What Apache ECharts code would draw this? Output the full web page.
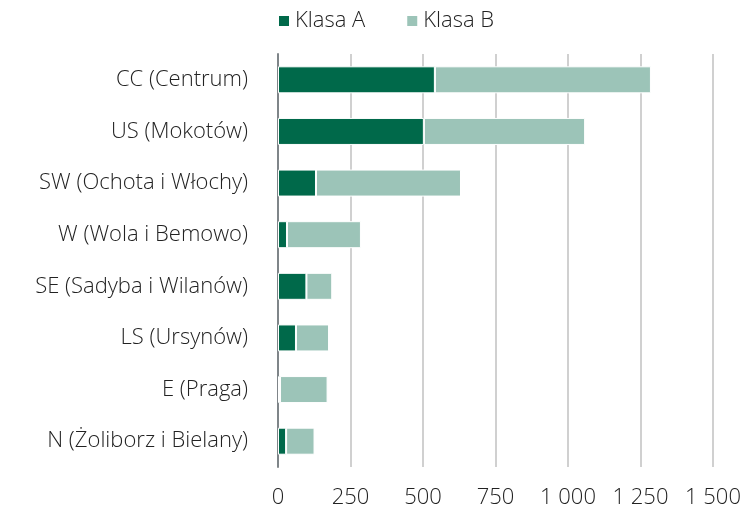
<!DOCTYPE html>
<html>
<head>
<meta charset="utf-8">
<script src="https://cdn.jsdelivr.net/npm/echarts@6/dist/echarts.min.js"></script>
<style>
  html, body { margin: 0; padding: 0; background: #fff; }
  #chart { width: 748px; height: 510px; }
</style>
</head>
<body>
<div id="chart"></div>
<script>
// dane
var districts = ['CC (Centrum)', 'US (Mokotów)', 'SW (Ochota i Włochy)', 'W (Wola i Bemowo)',
                 'SE (Sadyba i Wilanów)', 'LS (Ursynów)', 'E (Praga)', 'N (Żoliborz i Bielany)'];
var klasaA = [541, 503, 131, 31, 98, 62, 7, 28];
var klasaB = [745, 556, 500, 255, 89, 114, 164, 98];
var xTicks = [0, 250, 500, 750, 1000, 1250, 1500];

var font = '"Open Sans", "Noto Sans", sans-serif';
var colors = ['#00694A', '#9CC4B8'];

function fmt(v) {
    return String(v).replace(/\B(?=(\d{3})+(?!\d))/g, ' ');
}

var myChart = echarts.init(document.getElementById('chart'));
myChart.setOption({
    color: colors,
    animation: false,
    legend: {
        top: 5,
        left: 272,
        itemWidth: 12,
        itemHeight: 12,
        itemGap: 40,
        icon: 'rect',
        textStyle: { fontFamily: font, fontWeight: 300, fontSize: 22, color: '#222' },
        data: ['Klasa A', 'Klasa B']
    },
    grid: { left: 278, right: 35, top: 54, bottom: 43 },
    xAxis: {
        type: 'value',
        min: xTicks[0],
        max: xTicks[xTicks.length - 1],
        interval: 250,
        axisLine: { show: false },
        axisTick: { show: false },
        splitLine: { lineStyle: { color: '#d0d0d0', width: 2 } },
        axisLabel: {
            margin: 20,
            fontFamily: font, fontWeight: 300, fontSize: 22, color: '#222',
            formatter: fmt
        }
    },
    yAxis: {
        type: 'category',
        inverse: true,
        data: districts,
        axisLine: { lineStyle: { color: '#7f8589', width: 2 } },
        axisTick: { show: false },
        axisLabel: { margin: 30, fontFamily: font, fontWeight: 300, fontSize: 22, color: '#222' }
    },
    series: [{
        name: 'Klasa A',
        type: 'bar',
        stack: 'all',
        barWidth: 27,
        itemStyle: { borderColor: '#fff', borderWidth: 1 },
        data: klasaA
    }, {
        name: 'Klasa B',
        type: 'bar',
        stack: 'all',
        barWidth: 27,
        itemStyle: { borderColor: '#fff', borderWidth: 1 },
        data: klasaB
    }]
});
</script>
</body>
</html>
